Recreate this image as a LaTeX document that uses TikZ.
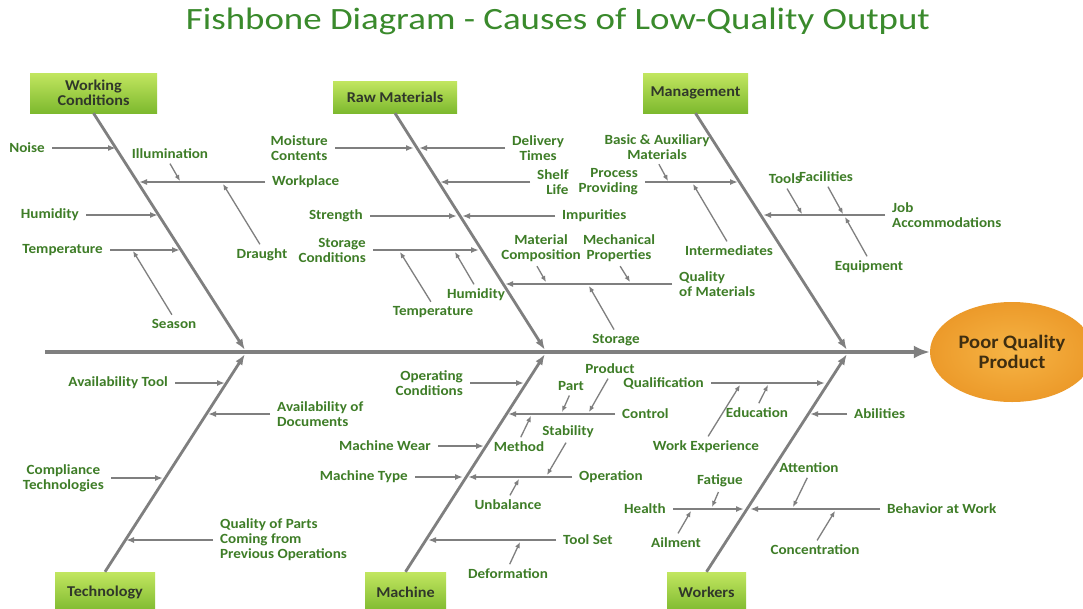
\documentclass[tikz,border=0pt]{standalone}
\usepackage{fontspec}
\setmainfont{Carlito}
\newfontfamily\lblfont[FakeStretch=1.08]{Carlito}
\newfontfamily\ttlfont[FakeStretch=1.19]{Carlito}
\usetikzlibrary{arrows.meta,shapes.geometric}
\definecolor{lblgreen}{HTML}{3E7D27}
\definecolor{titlegreen}{HTML}{3A8A2C}
\definecolor{linegray}{HTML}{7F7F7F}
\definecolor{boxtop}{HTML}{C2E660}
\definecolor{boxbot}{HTML}{7DB92E}
\definecolor{boxtext}{HTML}{30372A}
\definecolor{orangein}{HTML}{F6B445}
\definecolor{orangeout}{HTML}{EC9A2A}
\definecolor{efftext}{HTML}{3F2E10}
\begin{document}
\begin{tikzpicture}[x=1pt,y=-1pt,
  lbl/.style={font=\lblfont\fontsize{14}{15}\selectfont\bfseries, text=lblgreen, inner sep=1pt, align=center},
  cat/.style={top color=boxtop, bottom color=boxbot, font=\lblfont\fontsize{15}{15}\selectfont\bfseries, text=boxtext, align=center, inner sep=0pt},
  br/.style={draw=linegray, line width=1.6pt, shorten <=6pt, -{Latex[length=8pt,width=6pt]}},
  sb/.style={draw=linegray, line width=1.3pt, shorten <=4pt, -{Latex[length=6pt,width=5pt]}},
  bone/.style={draw=linegray, line width=2.8pt, -{Latex[length=11pt,width=8pt]}},
  spine/.style={draw=linegray, line width=4pt, -{Latex[length=16pt,width=13pt]}}]
\fill[white] (0,0) rectangle (1083,608);
\useasboundingbox (0,0) rectangle (1083,608);

% title
\node[font=\ttlfont\fontsize{31}{34}\selectfont, text=titlegreen, inner sep=0pt] (title) at (558,21) {Fishbone Diagram - Causes of Low-Quality Output};

% effect
\node[ellipse, inner color=orangein, outer color=orangeout, minimum width=164pt, minimum height=100pt, inner sep=0pt,
  font=\lblfont\fontsize{19}{20}\selectfont\bfseries, text=efftext, align=center] (effect) at (1012,352) {Poor Quality\\Product};
\coordinate (tail) at (45,352);
\draw[spine] (tail) -- (effect.west);

% category boxes
\node[cat, minimum width=127pt, minimum height=40pt] (wc) at (93.5,93) {Working\\Conditions};
\node[cat, minimum width=124pt, minimum height=32pt] (rm) at (395,97) {Raw Materials};
\node[cat, minimum width=105pt, minimum height=40pt] (mg) at (695.5,93) {Management};
\node[cat, minimum width=100pt, minimum height=40pt] (tech) at (105,592) {Technology};
\node[cat, minimum width=81pt, minimum height=40pt] (mach) at (405.5,592) {Machine};
\node[cat, minimum width=79pt, minimum height=40pt] (wk) at (706.5,592) {Workers};

% bone tips
\coordinate (wcTip) at (245,350);
\coordinate (rmTip) at (545,350);
\coordinate (mgTip) at (847,350);
\coordinate (techTip) at (245,354);
\coordinate (machTip) at (545,354);
\coordinate (wkTip) at (847,354);
\draw[bone] (wc.south) -- (wcTip);
\draw[bone] (rm.south) -- (rmTip);
\draw[bone] (mg.south) -- (mgTip);
\draw[bone] (tech.north) -- (techTip);
\draw[bone] (mach.north) -- (machTip);
\draw[bone] (wk.north) -- (wkTip);

% ---------- Working Conditions ----------
\node[lbl,anchor=east] (noise) at (46,148) {Noise};
\coordinate (p-noise) at (116,148);
\draw[br] (noise) -- (p-noise);
\node[lbl,anchor=west] (workplace) at (271,182) {Workplace};
\coordinate (p-workplace) at (139,182);
\draw[br] (workplace) -- (p-workplace);
\node[lbl,anchor=east] (hum1) at (80,215) {Humidity};
\coordinate (p-hum1) at (158,215);
\draw[br] (hum1) -- (p-hum1);
\node[lbl,anchor=east] (temp1) at (104,250) {Temperature};
\coordinate (p-temp1) at (180,250);
\draw[br] (temp1) -- (p-temp1);
\node[lbl] (illum) at (170,154) {Illumination};
\coordinate (p-illum) at (180,181);
\draw[sb] ([xshift=-2pt]illum.south) -- (p-illum);
\node[lbl] (draught) at (262,255) {Draught};
\coordinate (p-draught) at (223,184);
\draw[sb] (draught.north) -- (p-draught);
\node[lbl] (season) at (174,324) {Season};
\coordinate (p-season) at (133,251);
\draw[sb] (season.north) -- (p-season);

% ---------- Raw Materials ----------
\node[lbl,anchor=east] (moist) at (329,148) {Moisture\\Contents};
\coordinate (p-moist) at (414,148);
\draw[br] (moist) -- (p-moist);
\node[lbl,anchor=west] (deliv) at (511,148) {Delivery\\Times};
\coordinate (p-deliv) at (419,148);
\draw[br] (deliv) -- (p-deliv);
\node[lbl,anchor=west,align=right] (shelf) at (536,182) {Shelf\\Life};
\coordinate (p-shelf) at (440,182);
\draw[br] (shelf) -- (p-shelf);
\node[lbl,anchor=east] (strength) at (364,216) {Strength};
\coordinate (p-strength) at (457,216);
\draw[br] (strength) -- (p-strength);
\node[lbl,anchor=west] (impur) at (561,216) {Impurities};
\coordinate (p-impur) at (462,216);
\draw[br] (impur) -- (p-impur);
\node[lbl,anchor=east,align=right] (storcond) at (367,250) {Storage\\Conditions};
\coordinate (p-storcond) at (479,250);
\draw[br] (storcond) -- (p-storcond);
\node[lbl] (temp2) at (433,312) {Temperature};
\coordinate (p-temp2) at (400,252);
\draw[sb] (temp2.north) -- (p-temp2);
\node[lbl] (hum2) at (476,295) {Humidity};
\coordinate (p-hum2) at (455,252);
\draw[sb] (hum2.north) -- (p-hum2);
\node[lbl,anchor=west,align=left] (qualmat) at (678,284) {Quality\\of Materials};
\coordinate (p-qualmat) at (505,284);
\draw[br] (qualmat) -- (p-qualmat);
\node[lbl] (matcomp) at (541,248) {Material\\Composition};
\coordinate (p-matcomp) at (546,282);
\draw[sb] ([xshift=-6pt]matcomp.south) -- (p-matcomp);
\node[lbl] (mech) at (619,248) {Mechanical\\Properties};
\coordinate (p-mech) at (630,282);
\draw[sb] ([xshift=-1pt]mech.south) -- (p-mech);
\node[lbl] (storage) at (616,340) {Storage};
\coordinate (p-storage) at (589,286);
\draw[sb] (storage.north) -- (p-storage);

% ---------- Management ----------
\node[lbl,anchor=east,align=right] (process) at (639,182) {Process\\Providing};
\coordinate (p-process) at (738,182);
\draw[br] (process) -- (p-process);
\node[lbl] (basic) at (657,147) {Basic \& Auxiliary\\Materials};
\coordinate (p-basic) at (668,181);
\draw[sb] (basic.south) -- (p-basic);
\node[lbl] (interm) at (729,251) {Intermediates};
\coordinate (p-interm) at (693,184);
\draw[sb] (interm.north) -- (p-interm);
\node[lbl,anchor=west,align=left] (job) at (891,215) {Job\\Accommodations};
\coordinate (p-job) at (763,215);
\draw[br] (job) -- (p-job);
\node[lbl] (tools) at (785,179) {Tools};
\coordinate (p-tools) at (802,214);
\draw[sb] (tools.south) -- (p-tools);
\node[lbl] (facil) at (826,177) {Facilities};
\coordinate (p-facil) at (843,214);
\draw[sb] (facil.south) -- (p-facil);
\node[lbl] (equip) at (869,267) {Equipment};
\coordinate (p-equip) at (845,217);
\draw[sb] (equip.north) -- (p-equip);

% ---------- Technology ----------
\node[lbl,anchor=east] (availtool) at (169,383) {Availability Tool};
\coordinate (p-availtool) at (225,383);
\draw[br] (availtool) -- (p-availtool);
\node[lbl,anchor=west,align=left] (availdoc) at (276,414) {Availability of\\Documents};
\coordinate (p-availdoc) at (208,414);
\draw[br] (availdoc) -- (p-availdoc);
\node[lbl,anchor=east] (compl) at (105,478) {Compliance\\Technologies};
\coordinate (p-compl) at (163,478);
\draw[br] (compl) -- (p-compl);
\node[lbl,anchor=west,align=left] (qparts) at (219,540) {Quality of Parts\\Coming from\\Previous Operations};
\coordinate (p-qparts) at (126,540);
\draw[br] (qparts) -- (p-qparts);

% ---------- Machine ----------
\node[lbl,anchor=east,align=right] (opcond) at (464,383) {Operating\\Conditions};
\coordinate (p-opcond) at (524,383);
\draw[br] (opcond) -- (p-opcond);
\node[lbl,anchor=west] (control) at (621,414) {Control};
\coordinate (p-control) at (508,414);
\draw[br] (control) -- (p-control);
\node[lbl] (part) at (571,386) {Part};
\coordinate (p-part) at (562,412);
\draw[sb] (part.south) -- (p-part);
\node[lbl] (product) at (610,369) {Product};
\coordinate (p-product) at (589,412);
\draw[sb] (product.south) -- (p-product);
\node[lbl] (method) at (519,447) {Method};
\coordinate (p-method) at (531,416);
\draw[sb] (method.north) -- (p-method);
\node[lbl,anchor=east] (mwear) at (432,446) {Machine Wear};
\coordinate (p-mwear) at (484,446);
\draw[br] (mwear) -- (p-mwear);
\node[lbl,anchor=east] (mtype) at (409,477) {Machine Type};
\coordinate (p-mtype) at (463,477);
\draw[br] (mtype) -- (p-mtype);
\node[lbl,anchor=west] (operation) at (578,477) {Operation};
\coordinate (p-operation) at (468,477);
\draw[br] (operation) -- (p-operation);
\node[lbl] (stab) at (568,432) {Stability};
\coordinate (p-stab) at (547,475);
\draw[sb] (stab.south) -- (p-stab);
\node[lbl] (unbal) at (508,505) {Unbalance};
\coordinate (p-unbal) at (519,479);
\draw[sb] (unbal.north) -- (p-unbal);
\node[lbl,anchor=west] (toolset) at (562,540) {Tool Set};
\coordinate (p-toolset) at (428,540);
\draw[br] (toolset) -- (p-toolset);
\node[lbl] (deform) at (508,574) {Deformation};
\coordinate (p-deform) at (520,542);
\draw[sb] (deform.north) -- (p-deform);

% ---------- Workers ----------
\node[lbl,anchor=east] (qualif) at (705,383) {Qualification};
\coordinate (p-qualif) at (825,383);
\draw[br] (qualif) -- (p-qualif);
\node[lbl] (educ) at (757,413) {Education};
\coordinate (p-educ) at (768,385);
\draw[sb] (educ.north) -- (p-educ);
\node[lbl] (workexp) at (706,447) {Work Experience};
\coordinate (p-workexp) at (740,385);
\draw[sb] (workexp.north) -- (p-workexp);
\node[lbl,anchor=west] (abil) at (853,414) {Abilities};
\coordinate (p-abil) at (810,414);
\draw[br] (abil) -- (p-abil);
\node[lbl] (attn) at (809,468) {Attention};
\coordinate (p-attn) at (793,507);
\draw[sb] (attn.south) -- (p-attn);
\node[lbl] (fatigue) at (720,481) {Fatigue};
\coordinate (p-fatigue) at (712,507);
\draw[sb] (fatigue.south) -- (p-fatigue);
\node[lbl,anchor=east] (health) at (667,509) {Health};
\coordinate (p-health) at (744,509);
\draw[br] (health) -- (p-health);
\node[lbl,anchor=west] (behav) at (886,509) {Behavior at Work};
\coordinate (p-behav) at (750,509);
\draw[br] (behav) -- (p-behav);
\node[lbl] (ailment) at (676,543) {Ailment};
\coordinate (p-ailment) at (691,511);
\draw[sb] (ailment.north) -- (p-ailment);
\node[lbl] (concent) at (815,550) {Concentration};
\coordinate (p-concent) at (835,511);
\draw[sb] (concent.north) -- (p-concent);
\end{tikzpicture}
\end{document}
